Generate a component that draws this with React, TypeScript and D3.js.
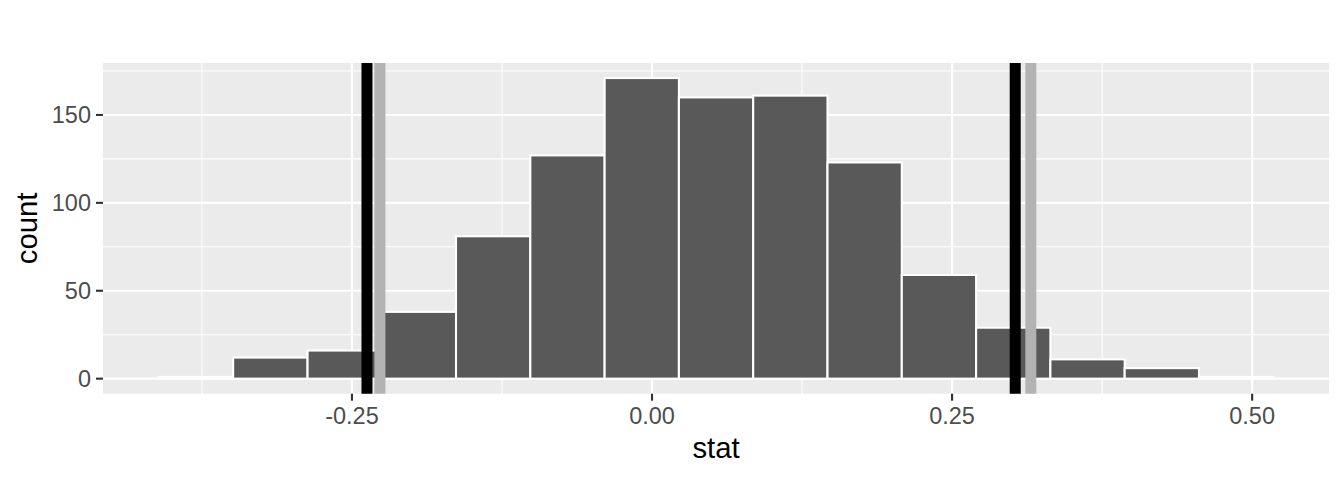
import React from 'react';
import * as d3 from 'd3';

// histogram bins (edges in stat units, counts per bin)
const binEdges = [
  -0.411, -0.349, -0.287, -0.2252, -0.1633, -0.1014, -0.0395, 0.0224, 0.0843, 0.1462, 0.2081,
  0.27, 0.3319, 0.3938, 0.4557, 0.5176,
];
const binCounts = [1, 12, 16, 38, 81, 127, 171, 160, 161, 123, 59, 29, 11, 6, 1];

// vertical reference lines
const blackLines = [-0.2375, 0.3026];
const greyLines = [-0.2267, 0.3156];

// axis ticks
const xMajor = [-0.25, 0, 0.25, 0.5];
const xMinor = [-0.375, -0.125, 0.125, 0.375];
const xLabels = ['-0.25', '0.00', '0.25', '0.50'];
const yMajor = [0, 50, 100, 150];
const yMinor = [25, 75, 125, 175];

const W = 1344;
const H = 480;
const panel = { left: 103, right: 1329, top: 63, bottom: 393.7 };
const font = '"Liberation Sans", Arial, Helvetica, sans-serif';

const App = () => {
  // ggplot-style 5% expansion of the data range
  const allX = [...binEdges, ...blackLines, ...greyLines];
  const [xmin, xmax] = d3.extent(allX) as [number, number];
  const xPad = (xmax - xmin) * 0.05;
  const x = d3
    .scaleLinear()
    .domain([xmin - xPad, xmax + xPad])
    .range([panel.left, panel.right]);

  const ymax = d3.max(binCounts) as number;
  const yPad = ymax * 0.05;
  const y = d3
    .scaleLinear()
    .domain([-yPad, ymax + yPad])
    .range([panel.bottom, panel.top]);

  const bins = binCounts.map((c, i) => ({ x0: binEdges[i], x1: binEdges[i + 1], count: c }));

  return (
    <svg
      width={W}
      height={H}
      style={{ position: 'absolute', left: 0, top: 0, background: '#fff' }}
      fontFamily={font}
    >
      {/* panel background */}
      <rect
        x={panel.left}
        y={panel.top}
        width={panel.right - panel.left}
        height={panel.bottom - panel.top}
        fill="#EBEBEB"
      />

      {/* minor grid */}
      {yMinor.map((v) => (
        <line key={'ym' + v} x1={panel.left} x2={panel.right} y1={y(v)} y2={y(v)} stroke="#fff" strokeWidth={1.07} />
      ))}
      {xMinor.map((v) => (
        <line key={'xm' + v} y1={panel.top} y2={panel.bottom} x1={x(v)} x2={x(v)} stroke="#fff" strokeWidth={1.07} />
      ))}
      {/* major grid */}
      {yMajor.map((v) => (
        <line key={'yM' + v} x1={panel.left} x2={panel.right} y1={y(v)} y2={y(v)} stroke="#fff" strokeWidth={2.13} />
      ))}
      {xMajor.map((v) => (
        <line key={'xM' + v} y1={panel.top} y2={panel.bottom} x1={x(v)} x2={x(v)} stroke="#fff" strokeWidth={2.13} />
      ))}

      {/* bars */}
      {bins.map((b, i) => (
        <rect
          key={i}
          x={x(b.x0)}
          y={y(b.count)}
          width={x(b.x1) - x(b.x0)}
          height={y(0) - y(b.count)}
          fill="#595959"
          stroke="#fff"
          strokeWidth={2.1}
        />
      ))}

      {/* vertical lines */}
      {blackLines.map((v) => (
        <line key={'b' + v} x1={x(v)} x2={x(v)} y1={panel.top} y2={panel.bottom} stroke="#000" strokeWidth={11} />
      ))}
      {greyLines.map((v) => (
        <line key={'g' + v} x1={x(v)} x2={x(v)} y1={panel.top} y2={panel.bottom} stroke="#B3B3B3" strokeWidth={11} />
      ))}

      {/* y axis ticks and labels */}
      {yMajor.map((v) => (
        <g key={'yt' + v}>
          <line x1={panel.left - 7} x2={panel.left} y1={y(v)} y2={y(v)} stroke="#333" strokeWidth={2.13} />
          <text x={panel.left - 12} y={y(v)} dy="0.36em" textAnchor="end" fontSize={23.5} fill="#4D4D4D">
            {v}
          </text>
        </g>
      ))}

      {/* x axis ticks and labels */}
      {xMajor.map((v, i) => (
        <g key={'xt' + v}>
          <line x1={x(v)} x2={x(v)} y1={panel.bottom} y2={panel.bottom + 7} stroke="#333" strokeWidth={2.13} />
          <text x={x(v)} y={423.5} textAnchor="middle" fontSize={23.5} fill="#4D4D4D">
            {xLabels[i]}
          </text>
        </g>
      ))}

      {/* axis titles */}
      <text x={(panel.left + panel.right) / 2} y={458} textAnchor="middle" fontSize={29.3} fill="#000">
        stat
      </text>
      <text
        transform={`translate(37,${(panel.top + panel.bottom) / 2}) rotate(-90)`}
        textAnchor="middle"
        fontSize={29.3}
        fill="#000"
      >
        count
      </text>
    </svg>
  );
};

export default App;
